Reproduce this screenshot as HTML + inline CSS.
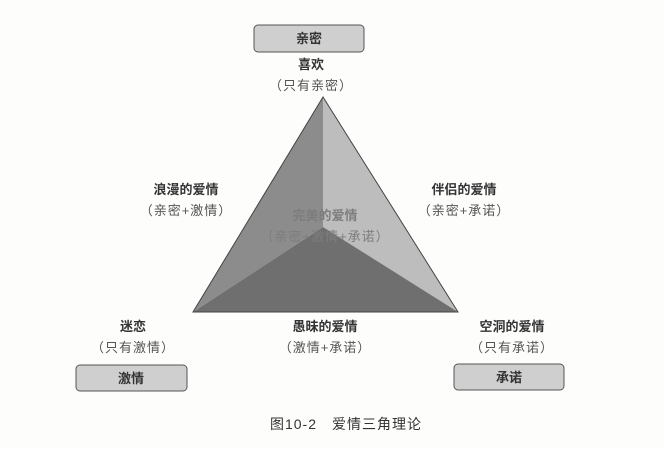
<!DOCTYPE html><html><head><meta charset="utf-8"><style>
body{margin:0;background:#fff;}
svg text{font-family:"Liberation Sans","Noto Sans CJK SC",sans-serif;fill:#333;text-anchor:middle;}
.b{font-weight:bold;font-size:13px;}
.n{font-size:13px;fill:#555;letter-spacing:1px;}
</style></head><body>
<svg width="664" height="447" xmlns="http://www.w3.org/2000/svg">
<rect width="664" height="447" fill="#fdfdfc"/>
<polygon points="323,97 193,312 323,227" fill="#8c8c8c"/>
<polygon points="323,97 458,312 323,227" fill="#bdbdbd"/>
<polygon points="193,312 458,312 323,227" fill="#6f6f6f"/>
<polygon points="323,97 193,312 458,312" fill="none" stroke="#444" stroke-width="1"/>
<text class="b" x="325" y="220" style="fill:#7d7d7d">完美的爱情</text>
<text class="n" x="325" y="241" style="fill:#7d7d7d">（亲密+激情+承诺）</text>
<rect x="254" y="25" width="110" height="27" rx="4" fill="#cfcfcf" stroke="#555"/>
<text class="b" x="309" y="43">亲密</text>
<text class="b" x="311" y="69">喜欢</text>
<text class="n" x="311" y="90">（只有亲密）</text>
<text class="b" x="186" y="194">浪漫的爱情</text>
<text class="n" x="186" y="215">（亲密+激情）</text>
<text class="b" x="464" y="194">伴侣的爱情</text>
<text class="n" x="464" y="215">（亲密+承诺）</text>
<text class="b" x="133" y="331">迷恋</text>
<text class="n" x="133" y="352">（只有激情）</text>
<text class="b" x="325" y="331">愚昧的爱情</text>
<text class="n" x="325" y="352">（激情+承诺）</text>
<text class="b" x="512" y="331">空洞的爱情</text>
<text class="n" x="512" y="352">（只有承诺）</text>
<rect x="76" y="365" width="111" height="26" rx="4" fill="#cfcfcf" stroke="#555"/>
<text class="b" x="131" y="383">激情</text>
<rect x="454" y="364" width="110" height="26" rx="4" fill="#cfcfcf" stroke="#555"/>
<text class="b" x="509" y="382">承诺</text>
<text x="346" y="429" style="font-size:14px;letter-spacing:1px">图10-2　爱情三角理论</text>
</svg></body></html>
